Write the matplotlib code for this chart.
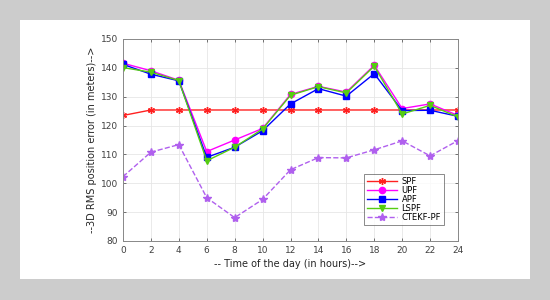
import matplotlib.pyplot as plt
from matplotlib.patches import Rectangle

hours = [0, 2, 4, 6, 8, 10, 12, 14, 16, 18, 20, 22, 24]
spf = [123.5, 125.4, 125.4, 125.4, 125.4, 125.4, 125.4, 125.4, 125.4, 125.4, 125.4, 125.4, 125.4]
upf = [141.6, 139.0, 135.7, 111.0, 115.0, 119.0, 130.8, 133.6, 131.6, 140.9, 125.9, 127.5, 123.5]
apf = [141.2, 137.8, 135.5, 109.0, 112.5, 118.2, 127.5, 132.8, 130.2, 138.0, 125.2, 125.3, 123.2]
lspf = [140.1, 138.5, 135.6, 107.8, 112.5, 118.8, 130.5, 133.5, 131.3, 140.6, 124.0, 127.0, 123.0]
ctekf = [102.3, 110.8, 113.4, 95.0, 88.1, 94.4, 104.7, 108.9, 108.8, 111.6, 114.7, 109.5, 114.8]

fig = plt.figure(figsize=(5.5, 3), dpi=100)
fig.patch.set_facecolor('#cccccc')
# white panel behind the plot
fig.patches.append(Rectangle((20 / 550, 21 / 300), 510 / 550, 259 / 300,
                             transform=fig.transFigure, facecolor='white',
                             edgecolor='none', zorder=-10))

ax = fig.add_axes([123 / 550, 59 / 300, 335 / 550, 202 / 300])
ax.plot(hours, spf, color='#ff2020', marker=(6, 2, 0), markersize=5, markeredgewidth=1,
        linewidth=1, label='SPF')
ax.plot(hours, upf, color='#ff00ff', marker='o', markersize=4.5, linewidth=1, label='UPF')
ax.plot(hours, apf, color='#0000ff', marker='s', markersize=4, linewidth=1, label='APF')
ax.plot(hours, lspf, color='#55cc11', marker='v', markersize=4.5, linewidth=1, label='LSPF')
ax.plot(hours, ctekf, color='#b060ee', marker='*', markersize=6, linewidth=1,
        linestyle='--', label='CTEKF-PF')

ax.set_xlim(0, 24)
ax.set_ylim(80, 150)
ax.set_xticks(hours)
ax.set_yticks(range(80, 151, 10))
ax.grid(True, color='#e6e6e6', linewidth=0.6)
ax.set_axisbelow(True)
ax.tick_params(labelsize=6.5, colors='#404040', length=2, direction='in',
               top=True, right=True, width=0.5)
for s in ax.spines.values():
    s.set_color('#888888')
    s.set_linewidth(0.7)

ax.set_xlabel('-- Time of the day (in hours)-->', fontsize=7, color='#262626', labelpad=3)
ax.set_ylabel('--3D RMS position error (in meters)-->', fontsize=7, color='#262626', labelpad=3)

leg = ax.legend(loc='upper left', bbox_to_anchor=(241 / 335, (241 - 174) / 202),
                fontsize=6, frameon=True, fancybox=False, handlelength=3.6,
                borderpad=0.3, labelspacing=0.02, handletextpad=0.6,
                borderaxespad=0)
leg.get_frame().set_edgecolor('#555555')
leg.get_frame().set_linewidth(0.6)

fig.savefig('out.png', dpi=100, facecolor=fig.get_facecolor())
